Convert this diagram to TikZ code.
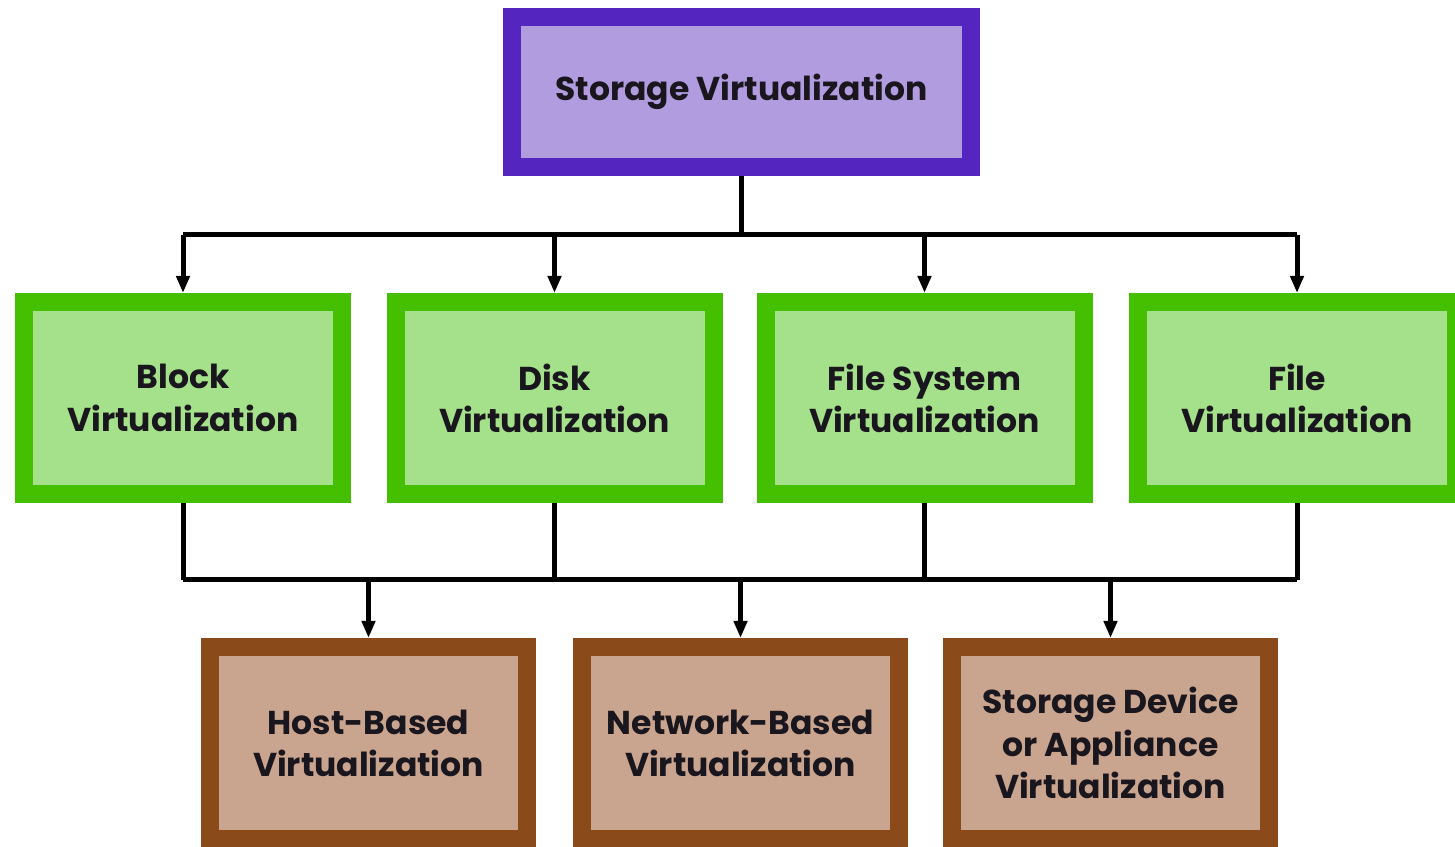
\documentclass[tikz,border=0pt]{standalone}
\usepackage{fontspec}
\setmainfont{Poppins}
\usetikzlibrary{arrows.meta, positioning}
\definecolor{topline}{RGB}{85,37,191}
\definecolor{topfill}{RGB}{177,156,224}
\definecolor{midline}{RGB}{68,192,0}
\definecolor{midfill}{RGB}{165,224,138}
\definecolor{lowline}{RGB}{138,74,26}
\definecolor{lowfill}{RGB}{201,164,143}
\definecolor{inktext}{RGB}{25,22,30}

\tikzset{
    box/.style={line width=0.18cm, align=center, text=inktext,
        font=\bfseries\fontsize{9.4}{12}\selectfont, inner sep=0pt},
    topbox/.style={box, draw=topline, fill=topfill, minimum width=4.59cm, minimum height=1.50cm},
    midbox/.style={box, draw=midline, fill=midfill, minimum width=3.18cm, minimum height=1.92cm},
    lowbox/.style={box, draw=lowline, fill=lowfill, minimum width=3.17cm, minimum height=1.92cm},
    wire/.style={line width=0.05cm, black},
    arrow/.style={wire, -{Triangle[width=0.13cm,length=0.17cm]}}
}

\begin{document}
\begin{tikzpicture}
    \clip (0,0) rectangle (14.55,-8.47);
    \fill[white] (0,0) rectangle (14.55,-8.47);

    % Top level
    \node[topbox] (storage) at (7.415,-0.92) {Storage Virtualization};

    % Middle row
    \node[midbox] (block) at (1.83,-3.98) {Block\\Virtualization};
    \node[midbox] (disk) at (5.545,-3.98) {Disk\\Virtualization};
    \node[midbox] (fsys) at (9.245,-3.98) {File System\\Virtualization};
    \node[midbox] (file) at (12.97,-3.98) {File\\Virtualization};

    % Bottom row
    \node[lowbox] (host) at (3.685,-7.43) {Host-Based\\Virtualization};
    \node[lowbox] (net) at (7.405,-7.43) {Network-Based\\Virtualization};
    \node[lowbox] (appl) at (11.105,-7.43) {Storage Device\\or Appliance\\Virtualization};

    % Upper connectors
    \coordinate (upbus) at (7.415,-2.35);
    \draw[wire] (storage.south) -- (upbus);
    \draw[wire] (block.north |- upbus) -- (file.north |- upbus);
    \foreach \n in {block, disk, fsys, file}
        \draw[arrow] (\n.north |- upbus) -- (\n.north);

    % Lower connectors
    \coordinate (lowbus) at (7.415,-5.80);
    \foreach \n in {block, disk, fsys, file}
        \draw[wire] (\n.south) -- (\n.south |- lowbus);
    \draw[wire] (block.south |- lowbus) -- (file.south |- lowbus);
    \foreach \n in {host, net, appl}
        \draw[arrow] (\n.north |- lowbus) -- (\n.north);
\end{tikzpicture}
\end{document}
